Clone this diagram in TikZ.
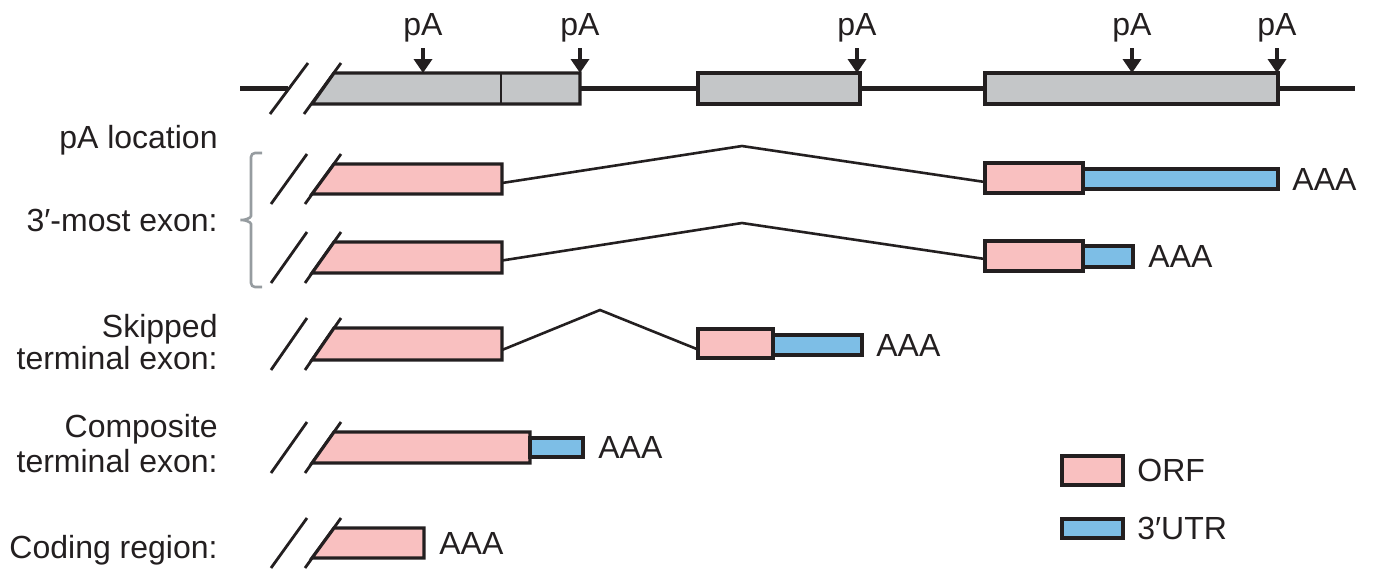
\documentclass[tikz,border=0pt]{standalone}
\usepackage{fontspec}
\setmainfont{Liberation Sans}
\usetikzlibrary{arrows.meta,calc,fit}
\definecolor{genegray}{RGB}{196,198,200}
\definecolor{orfpink}{RGB}{249,192,192}
\definecolor{utrblue}{RGB}{125,190,230}
\definecolor{ink}{RGB}{35,31,32}
\definecolor{bracegray}{RGB}{150,156,160}
\newcommand\leftexon[4]{%
  \draw[slash] (271,#3+10) -- (307,#2-10);
  \draw[slash] (305,#3+10) -- (341,#2-10);
  \path[orfbox] (312,#3) -- (334,#2) -- (#4,#2) -- (#4,#3) -- cycle;
  \node[region, fit={(312,#2) (#4,#3)}] (#1) {};
}
\begin{document}
\begin{tikzpicture}[x=0.5pt,y=-0.5pt,
  txt/.style={font=\fontsize{16}{19}\selectfont, text=ink, inner sep=0pt},
  geneline/.style={line width=2.8pt, draw=ink},
  genebox/.style={draw=ink, line width=1.6pt, fill=genegray},
  orfbox/.style={draw=ink, line width=1.6pt, fill=orfpink},
  utrbox/.style={draw=ink, line width=1.6pt, fill=utrblue, inner sep=0pt, outer sep=0pt},
  slash/.style={draw=ink, line width=1.4pt},
  intron/.style={draw=ink, line width=1.3pt},
  pa/.style={draw=ink, line width=2.4pt, -{Triangle[width=9pt,length=7pt]}},
  bracket/.style={draw=bracegray, line width=1.3pt},
  region/.style={inner sep=0pt, outer sep=0pt},
  orfnode/.style={orfbox, inner sep=0pt, outer sep=0pt},
  gnode/.style={genebox, inner sep=0pt, outer sep=0pt},
]
\useasboundingbox (0,0) rectangle (1373,570);

% ---- genomic line ----
\draw[slash] (270,114) -- (308,63);
\draw[slash] (304,114) -- (341,63);
\path[genebox] (312,104) -- (334,73) -- (580,73) -- (580,104) -- cycle;
\node[region, fit={(312,73) (580,104)}] (g1) {};
\draw[draw=ink, line width=1pt] (501,73) -- (501,104);
\node[gnode, fit={(698,73) (860,104)}] (g2) {};
\node[gnode, fit={(985,73) (1278,104)}] (g3) {};
\coordinate (lstart) at (240,88.5);
\coordinate (lcut) at (288,88.5);
\coordinate (lend) at (1355,88.5);
\draw[geneline] (lstart) -- (lcut);
\draw[geneline] (g1.east) -- (g2.west);
\draw[geneline] (g2.east) -- (g3.west);
\draw[geneline] (g3.east) -- (lend);

% ---- pA sites ----
\foreach \n/\x in {1/423,2/580,3/857,4/1132,5/1277}{
  \node[txt, anchor=south] (pa\n) at (\x,43) {pA};
  \draw[pa] ([yshift=-2.5pt]pa\n.south) -- (pa\n.south |- g1.north);
}

% ---- labels ----
\node[txt, anchor=base east] (lab1) at (218,148) {pA location};
\node[txt, anchor=base east] (lab2) at (218,231) {3′-most exon:};
\node[txt, anchor=base east] (lab3a) at (218,337) {Skipped};
\node[txt, anchor=base east] (lab3b) at (218,369) {terminal exon:};
\node[txt, anchor=base east] (lab4a) at (218,437) {Composite};
\node[txt, anchor=base east] (lab4b) at (218,472) {terminal exon:};
\node[txt, anchor=base east] (lab5) at (218,558) {Coding region:};

% ---- bracket ----
\draw[bracket, rounded corners=2pt] (262,153) -- (251,153) -- (251,212)
  .. controls (251,218) and (245,220) .. (238,220)
  .. controls (245,220) and (251,222) .. (251,228) -- (251,287) -- (262,287);

% ---- row 1 ----
\leftexon{a1}{164}{194}{502}
\node[orfnode, fit={(985,163) (1083,193)}] (a1o) {};
\node[utrbox, fit={(1083,169) (1278,189)}] (a1u) {};
\coordinate (pk1) at (742,146);
\draw[intron] ([yshift=-2pt]a1.east) -- (pk1) -- ([yshift=-2pt]a1o.west);
\node[txt, anchor=west] (aaa1) at ([xshift=7pt]a1u.east) {AAA};

% ---- row 2 ----
\leftexon{a2}{242}{273}{502}
\node[orfnode, fit={(985,241) (1083,271)}] (a2o) {};
\node[utrbox, fit={(1083,246) (1133,267)}] (a2u) {};
\coordinate (pk2) at (742,223);
\draw[intron] ([yshift=-1.5pt]a2.east) -- (pk2) -- ([yshift=-1.5pt]a2o.west);
\node[txt, anchor=west] (aaa2) at ([xshift=7.5pt]a2u.east) {AAA};

% ---- row 3 ----
\leftexon{a3}{328}{360}{502}
\node[orfnode, fit={(698,329) (773,358)}] (a3o) {};
\node[utrbox, fit={(773,335) (862,355)}] (a3u) {};
\coordinate (pk3) at (600,310);
\draw[intron] ([yshift=-3pt]a3.east) -- (pk3) -- ([yshift=-3pt]a3o.west);
\node[txt, anchor=west] (aaa3) at ([xshift=7pt]a3u.east) {AAA};

% ---- row 4 ----
\leftexon{a4}{432}{463}{530}
\node[utrbox, fit={(530,438) (583,457)}] (a4u) {};
\node[txt, anchor=west] (aaa4) at ([xshift=7.5pt]a4u.east) {AAA};

% ---- row 5 ----
\leftexon{a5}{528}{558}{424}
\node[txt, anchor=west] (aaa5) at ([xshift=7.5pt]a5.east) {AAA};

% ---- legend ----
\node[orfnode, fit={(1062,456) (1123,485)}] (leg1) {};
\node[utrbox, fit={(1062,519) (1123,538)}] (leg2) {};
\node[txt, anchor=west] (legt1) at ([xshift=7pt]leg1.east) {ORF};
\node[txt, anchor=west] (legt2) at ([xshift=7pt]leg2.east) {3′UTR};
\end{tikzpicture}
\end{document}
